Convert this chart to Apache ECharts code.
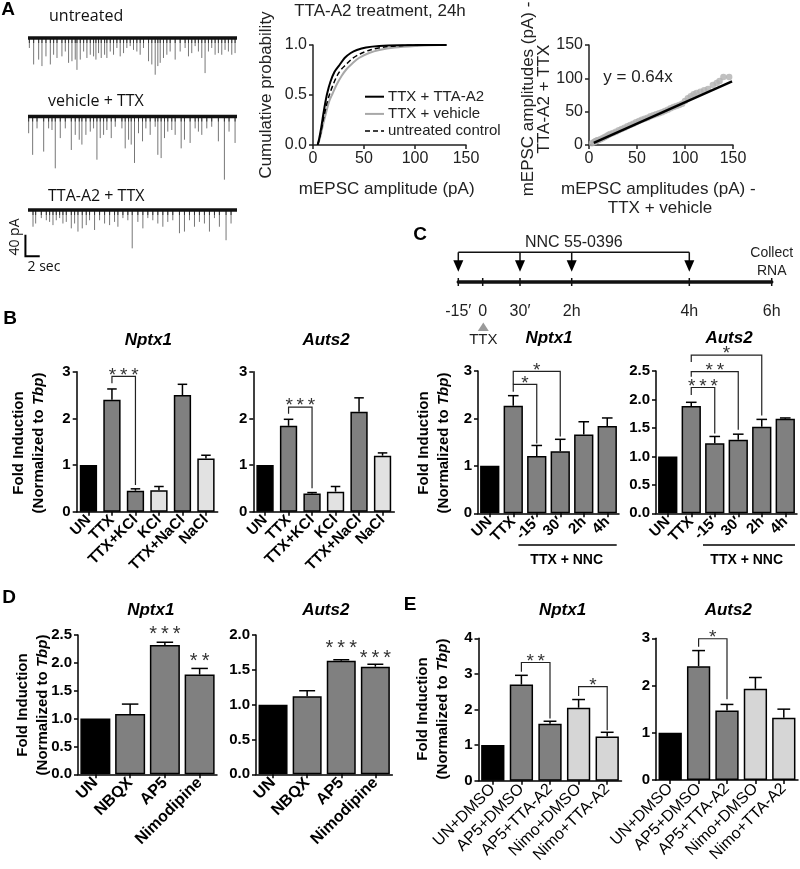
<!DOCTYPE html>
<html>
<head>
<meta charset="utf-8">
<script src="https://cdn.jsdelivr.net/npm/echarts@6.0.0/dist/echarts.min.js"></script>
<style>
html,body{margin:0;padding:0;background:#fff;}
#chart{width:800px;height:869px;}
</style>
</head>
<body>
<div id="chart"></div>
<script>
// ================= DATA =================
// Panel A: example traces, events as [time (s), amplitude (pA)]
const traceDuration = 29.2;
const traceUntreated = [[0.19,18.5],[0.79,49],[1.49,40],[1.95,52],[2.51,34],[3.12,49],[3.58,31],[4.05,37],[4.74,34],[5.21,25],[5.67,46],[6.14,43],[6.6,40],[6.84,59],[7.3,40],[7.77,25],[8.23,37],[8.7,31],[9.16,34],[9.49,40],[9.86,28],[10.23,37],[10.7,31],[11.02,37],[11.49,25],[11.95,31],[12.42,18.5],[12.88,34],[13.35,28],[13.81,18.5],[14.28,15],[14.74,22],[15.21,25],[15.67,31],[16.14,18.5],[16.84,43],[17.3,49],[17.77,68],[18.14,52],[18.47,46],[18.93,37],[19.4,31],[19.86,25],[20.56,40],[21.26,25],[21.95,18.5],[22.42,34],[22.88,28],[23.35,15],[23.81,25],[24.28,37],[24.74,65],[25.21,25],[25.67,18.5],[26.14,31],[26.6,28],[27.07,31],[27.53,22],[28.0,25],[28.47,31],[28.93,28]];
const traceVehicleTTX = [[0.09,31],[0.65,71],[1.26,22],[2.19,65],[2.88,22],[3.35,25],[3.81,96],[4.51,40],[5.21,22],[6.05,62],[6.6,34],[7.16,43],[7.53,52],[8.09,34],[8.7,28],[9.16,22],[9.63,80],[10.09,40],[10.56,34],[11.02,25],[11.63,40],[12.19,19],[13.12,22],[13.58,59],[14.05,43],[14.42,52],[14.88,86],[15.44,31],[16.0,46],[16.47,22],[17.07,34],[17.77,19],[18.14,71],[18.6,77],[19.07,40],[19.53,28],[20.09,25],[20.56,34],[21.4,59],[21.86,43],[22.65,49],[23.35,22],[23.81,28],[24.28,34],[24.98,22],[25.67,19],[26.6,46],[27.44,117],[28.09,28],[28.93,49]];
const traceTTAA2TTX = [[0.7,31],[1.07,25],[1.86,15],[2.56,19],[3.02,22],[3.49,28],[3.95,19],[4.42,15],[4.88,25],[5.35,22],[6.05,34],[6.51,25],[6.98,40],[7.58,34],[8.14,28],[8.6,19],[9.3,37],[10.0,19],[10.7,25],[11.4,28],[12.09,22],[12.56,31],[13.26,15],[13.95,19],[14.56,71],[15.35,22],[16.05,34],[16.74,15],[17.44,19],[18.14,25],[18.84,31],[19.53,22],[20.23,19],[21.16,43],[21.86,40],[22.56,19],[23.26,31],[23.95,22],[24.65,25],[25.35,40],[26.05,15],[26.74,31],[27.67,56],[28.37,25]];
const scaleBarPA = 40, scaleBarSec = 2;

// Panel A: cumulative distributions [amplitude (pA), probability]
const cdfTTX_TTAA2 = [[4.5,0],[6,0.06],[8,0.17],[10,0.3],[12,0.42],[14,0.52],[17,0.63],[21,0.73],[26,0.8],[31,0.87],[37,0.92],[43,0.95],[52,0.975],[65,0.99],[85,0.997],[131,1]];
const cdfTTX_vehicle = [[4.5,0],[6,0.04],[8,0.12],[10,0.21],[13,0.33],[16,0.44],[19,0.51],[23,0.6],[28,0.69],[33,0.76],[38,0.81],[45,0.87],[55,0.92],[65,0.95],[80,0.975],[100,0.99],[124,1],[131,1]];
const cdfUntreated = [[4.5,0],[6,0.05],[8,0.14],[10,0.25],[13,0.39],[16,0.5],[20,0.61],[24,0.7],[28,0.76],[32,0.8],[38,0.86],[46,0.91],[56,0.95],[70,0.98],[85,0.993],[105,1],[131,1]];
const cdfNames = ['TTX + TTA-A2', 'TTX + vehicle', 'untreated control'];

// Panel A: ranked amplitudes, TTX+vehicle (x) vs TTA-A2+TTX (y)
const qqPoints = [[3,2.5],[5,4],[6,5],[7,6],[8,6.5],[9,7],[10,7.5],[12,8.5],[14,10],[16,11.5],[18,13],[20,15],[22,16.5],[25,18],[28,20],[31,22],[34,24],[37,26],[40,28],[43,30],[46,32],[49,34],[52,36],[55,38],[58,39.5],[61,41],[64,43],[67,44.5],[70,46],[73,47.5],[76,49],[79,51],[82,53],[85,55],[88,57],[91,58.5],[94,60],[97,62],[100,66],[103,70],[106,73],[109,76],[112,78],[116,80],[120,82],[124,84],[129,90],[133,93],[136,96],[140,102],[146,102]];
const qqFit = [[5,3.2],[149,95.4]];   // y = 0.64x

// Panel B
const bCategories = ['UN','TTX','TTX+KCl','KCl','TTX+NaCl','NaCl'];
const bNptx1Mean = [1.0, 2.40, 0.45, 0.46, 2.50, 1.14];
const bNptx1Err  = [0, 0.23, 0.04, 0.08, 0.23, 0.07];
const bAuts2Mean = [1.0, 1.84, 0.39, 0.43, 2.14, 1.20];
const bAuts2Err  = [0, 0.14, 0.02, 0.11, 0.30, 0.06];
// [fromIdx, toIdx, top, leftEnd, rightEnd]
const bNptx1Sig = [[1,2,2.90,2.75,0.57]]; const bNptx1SigLabel = ['* * *'];
const bAuts2Sig = [[1,2,2.24,2.10,0.50]]; const bAuts2SigLabel = ['* * *'];

// Panel C timeline
const timelineLabels = ['-15′','0','30′','2h','4h','6h'];
const timelineLayout = [0, 24.4, 61.7, 113.4, 231, 313.4]; // schematic spacing
const nncAdded = ['-15′','30′','2h','4h'];
const ttxAdded = '0';
const rnaCollected = '6h';

// Panel C bars
const cCategories = ['UN','TTX','-15′','30′','2h','4h'];
const cNptx1Mean = [1.0, 2.27, 1.21, 1.31, 1.66, 1.84];
const cNptx1Err  = [0, 0.21, 0.22, 0.25, 0.27, 0.17];
const cAuts2Mean = [1.0, 1.885, 1.23, 1.29, 1.52, 1.66];
const cAuts2Err  = [0, 0.065, 0.12, 0.10, 0.13, 0.015];
const cNptx1Sig = [[1,2,2.72,2.56,1.47],[1,3,2.99,2.72,1.62]]; const cNptx1SigLabel = ['*','*'];
const cAuts2Sig = [[1,2,2.21,2.08,1.40],[1,3,2.49,2.40,1.47],[1,4,2.78,2.66,1.72]]; const cAuts2SigLabel = ['* * *','* *','*'];

// Panel D
const dCategories = ['UN','NBQX','AP5','Nimodipine'];
const dNptx1Mean = [1.0, 1.08, 2.32, 1.79];
const dNptx1Err  = [0, 0.18, 0.05, 0.11];
const dAuts2Mean = [1.0, 1.12, 1.63, 1.545];
const dAuts2Err  = [0, 0.08, 0.015, 0.035];
const dNptx1Stars = [[2,2.60],[3,2.11]]; const dNptx1StarLabel = ['* * *','* *'];
const dAuts2Stars = [[2,1.88],[3,1.73]]; const dAuts2StarLabel = ['* * *','* * *'];

// Panel E
const eCategories = ['UN+DMSO','AP5+DMSO','AP5+TTA-A2','Nimo+DMSO','Nimo+TTA-A2'];
const eNptx1Mean = [1.0, 2.70, 1.60, 2.05, 1.24];
const eNptx1Err  = [0, 0.26, 0.07, 0.23, 0.12];
const eAuts2Mean = [1.0, 2.41, 1.47, 1.93, 1.32];
const eAuts2Err  = [0, 0.33, 0.13, 0.24, 0.18];
const eNptx1Sig = [[1,2,3.32,3.06,1.75],[3,4,2.64,2.38,1.42]]; const eNptx1SigLabel = ['* *','*'];
const eAuts2Sig = [[1,2,2.99,2.82,1.71]]; const eAuts2SigLabel = ['*'];

// ================= STYLE =================
const FONT = '"Liberation Sans", Arial, Helvetica, sans-serif';
const FONT_A = '"Open Sans", "Liberation Sans", sans-serif';
const BLACK = '#000000', DARK = '#808080', LIGHT = '#e2e2e2', LIGHT_E = '#d6d6d6';
const bFills = [BLACK, DARK, DARK, LIGHT, DARK, LIGHT];
const cFills = [BLACK, DARK, DARK, DARK, DARK, DARK];
const dFills = [BLACK, DARK, DARK, DARK];
const eFills = [BLACK, DARK, DARK, LIGHT_E, LIGHT_E];
const cdfStyles = [
  {color: '#000', width: 2, type: 'solid'},
  {color: '#a8a8a8', width: 2, type: 'solid'},
  {color: '#000', width: 1.5, type: [5, 3]}
];
const starText = s => s.replace(/ /g, '\u2009');

const grids = [], xAxes = [], yAxes = [], series = [], graphics = [];

function addGrid(g, xa, ya) {
  const gi = grids.length;
  grids.push(g);
  xAxes.push(Object.assign({gridIndex: gi}, xa));
  yAxes.push(Object.assign({gridIndex: gi}, ya));
  return gi;
}

// ---------- Panel A traces ----------
const PX_PER_PA = 0.54;
function tracePanel(events, baselineY, withScale) {
  const gi = addGrid(
    {left: 28, top: baselineY - 10 * PX_PER_PA, width: 209, height: 130 * PX_PER_PA},
    {type: 'value', min: 0, max: traceDuration, show: false},
    {type: 'value', min: -120, max: 10, show: false}
  );
  series.push({type: 'line', xAxisIndex: gi, yAxisIndex: gi, data: [[0,0],[traceDuration,0]], symbol: 'none', silent: true,
    lineStyle: {color: '#111', width: 3.6}, z: 3});
  series.push({type: 'custom', xAxisIndex: gi, yAxisIndex: gi, data: events, silent: true, clip: false, z: 2,
    renderItem: (p, api) => {
      const a = api.coord([api.value(0), 0]);
      const b = api.coord([api.value(0), -api.value(1)]);
      return {type: 'group', children: [
        {type: 'line', shape: {x1: a[0], y1: a[1], x2: b[0], y2: b[1]}, style: {stroke: '#777', lineWidth: 1}},
        {type: 'line', shape: {x1: a[0], y1: a[1], x2: a[0], y2: a[1] + 5}, style: {stroke: '#333', lineWidth: 1}}
      ]};
    }});
  if (withScale) {
    series.push({type: 'custom', xAxisIndex: gi, yAxisIndex: gi, clip: false, silent: true, z: 5,
      data: [[-0.36, -45.7, scaleBarSec, scaleBarPA]],
      renderItem: (p, api) => {
        const top = api.coord([api.value(0), api.value(1)]);
        const corner = api.coord([api.value(0), api.value(1) - api.value(3)]);
        const right = api.coord([api.value(0) + api.value(2), api.value(1) - api.value(3)]);
        return {type: 'polyline', shape: {points: [top, corner, right]}, style: {stroke: '#000', lineWidth: 2, fill: 'none'}};
      }});
  }
}
tracePanel(traceUntreated, 38, false);
tracePanel(traceVehicleTTX, 116.5, false);
tracePanel(traceTTAA2TTX, 210, true);

// ---------- Panel A cumulative ----------
const thinAxis = (extra) => Object.assign({
  axisLine: {show: true, onZero: false, lineStyle: {color: '#222', width: 1.5}},
  axisTick: {show: true, length: 4, lineStyle: {color: '#222', width: 1.5}},
  splitLine: {show: false},
  axisLabel: {color: '#222', fontSize: 16, fontFamily: FONT, margin: 6}
}, extra);
const giCdf = addGrid({left: 313, top: 45, width: 153, height: 100},
  thinAxis({type: 'value', min: 0, max: 150, interval: 50}),
  thinAxis({type: 'value', min: 0, max: 1, interval: 0.5, axisLabel: {color: '#222', fontSize: 16, fontFamily: FONT, margin: 6, formatter: v => v.toFixed(1)}}));
[cdfTTX_TTAA2, cdfTTX_vehicle, cdfUntreated].forEach((d, i) => {
  series.push({name: cdfNames[i], type: 'line', xAxisIndex: giCdf, yAxisIndex: giCdf, data: d, symbol: 'none', smooth: 0.3, silent: true,
    itemStyle: {color: cdfStyles[i].color}, lineStyle: cdfStyles[i], z: i === 1 ? 3 : 4});
});
series.push({type: 'custom', xAxisIndex: giCdf, yAxisIndex: giCdf, clip: false, silent: true, z: 5,
  data: cdfNames.map((n, i) => [i]),
  renderItem: (p, api) => {
    const i = api.value(0);
    const y = 96.7 + i * 17.2;
    const s = cdfStyles[i];
    return {type: 'group', children: [
      {type: 'line', shape: {x1: 365, y1: y, x2: 384, y2: y}, style: {stroke: s.color, lineWidth: s.width, lineDash: Array.isArray(s.type) ? s.type : null}},
      {type: 'text', x: 388, y: y, style: {text: cdfNames[i], fill: '#222', font: '15px ' + FONT, align: 'left', verticalAlign: 'middle'}}
    ]};
  }});

// ---------- Panel A scatter ----------
const giQQ = addGrid({left: 589, top: 45, width: 144, height: 100},
  thinAxis({type: 'value', min: 0, max: 150, interval: 50}),
  thinAxis({type: 'value', min: 0, max: 150, interval: 50}));
series.push({type: 'scatter', xAxisIndex: giQQ, yAxisIndex: giQQ, data: qqPoints, symbolSize: 6.5, silent: true, itemStyle: {color: '#b0b0b0'}, z: 2});
series.push({type: 'line', xAxisIndex: giQQ, yAxisIndex: giQQ, data: qqFit, symbol: 'none', silent: true, lineStyle: {color: '#000', width: 2.5}, z: 3});

// ---------- Panel C timeline ----------
const posOf = lab => timelineLayout[timelineLabels.indexOf(lab)];
const giTL = addGrid({left: 458.3, top: 252.3, width: 313.4, height: 29.7},
  {type: 'value', min: 0, max: timelineLayout[timelineLayout.length - 1],
   axisLine: {show: true, onZero: false, lineStyle: {color: '#111', width: 3.5}}, axisTick: {show: false}, axisLabel: {show: false}, splitLine: {show: false}},
  {type: 'value', min: 0, max: 1, show: false});
series.push({type: 'custom', xAxisIndex: giTL, yAxisIndex: giTL, clip: false, silent: true,
  data: timelineLayout.map((x, i) => [x, i]),
  renderItem: (p, api) => {
    const c = api.coord([api.value(0), 0]);
    return {type: 'group', children: [
      {type: 'line', shape: {x1: c[0], y1: c[1] - 4, x2: c[0], y2: c[1] + 4}, style: {stroke: '#111', lineWidth: 1.5}},
      {type: 'text', x: c[0], y: c[1] + 30, style: {text: timelineLabels[api.value(1)], fill: '#222', font: '16px ' + FONT, align: 'center', verticalAlign: 'middle'}}
    ]};
  }});
series.push({type: 'custom', xAxisIndex: giTL, yAxisIndex: giTL, clip: false, silent: true,
  data: [[posOf(nncAdded[0]), posOf(nncAdded[nncAdded.length - 1])]],
  renderItem: (p, api) => {
    const a = api.coord([api.value(0), 1]), b = api.coord([api.value(1), 1]);
    const base = api.coord([0, 0])[1];
    const kids = [
      {type: 'line', shape: {x1: a[0], y1: a[1], x2: b[0], y2: b[1]}, style: {stroke: '#111', lineWidth: 1.5}},
      {type: 'text', x: (a[0] + b[0]) / 2, y: a[1] - 10, style: {text: 'NNC 55-0396', fill: '#222', font: '16px ' + FONT, align: 'center', verticalAlign: 'middle'}}
    ];
    nncAdded.forEach(lab => {
      const x = api.coord([posOf(lab), 1])[0];
      const tip = base - 10.3;
      kids.push({type: 'line', shape: {x1: x, y1: a[1], x2: x, y2: tip - 10}, style: {stroke: '#111', lineWidth: 1.5}});
      kids.push({type: 'polygon', shape: {points: [[x - 5, tip - 11.5], [x + 5, tip - 11.5], [x, tip]]}, style: {fill: '#000'}});
    });
    return {type: 'group', children: kids};
  }});
series.push({type: 'custom', xAxisIndex: giTL, yAxisIndex: giTL, clip: false, silent: true,
  data: [[posOf(ttxAdded), posOf(rnaCollected)]],
  renderItem: (p, api) => {
    const t = api.coord([api.value(0), 0]);
    const r = api.coord([api.value(1), 1]);
    return {type: 'group', children: [
      {type: 'polygon', shape: {points: [[t[0] + 0.6 - 5.5, t[1] + 49], [t[0] + 0.6 + 5.5, t[1] + 49], [t[0] + 0.6, t[1] + 40.5]]}, style: {fill: '#9a9a9a'}},
      {type: 'text', x: t[0] + 0.6, y: t[1] + 58, style: {text: 'TTX', fill: '#222', font: '15px ' + FONT, align: 'center', verticalAlign: 'middle'}},
      {type: 'text', x: r[0], y: r[1] + 1, style: {text: 'Collect', fill: '#222', font: '14px ' + FONT, align: 'center', verticalAlign: 'middle'}},
      {type: 'text', x: r[0], y: r[1] + 18.4, style: {text: 'RNA', fill: '#222', font: '14px ' + FONT, align: 'center', verticalAlign: 'middle'}}
    ]};
  }});

// ---------- Bar panels ----------
function barPanel(cfg) {
  const gi = addGrid({left: cfg.left, top: cfg.top, width: cfg.width, height: cfg.height},
    {type: 'category', data: cfg.cats,
     axisLine: {show: true, lineStyle: {color: '#000', width: 1.5}},
     axisTick: {show: true, alignWithLabel: true, length: 4, lineStyle: {color: '#000', width: 1.5}},
     axisLabel: {interval: 0, rotate: 45, margin: 6, color: '#000', fontSize: cfg.labelSize || 15, fontWeight: cfg.labelWeight || 'bold', fontFamily: FONT}},
    {type: 'value', min: 0, max: cfg.max, interval: cfg.interval,
     axisLine: {show: true, lineStyle: {color: '#000', width: 1.5}},
     axisTick: {show: true, length: 4, lineStyle: {color: '#000', width: 1.5}},
     splitLine: {show: false},
     axisLabel: {margin: 6, color: '#000', fontSize: 15, fontWeight: 'bold', fontFamily: FONT,
       formatter: v => cfg.decimals ? v.toFixed(cfg.decimals) : String(v)}});
  series.push({type: 'bar', xAxisIndex: gi, yAxisIndex: gi, barWidth: cfg.barWidth, silent: true, z: 2,
    itemStyle: {borderColor: '#000', borderWidth: 1.5},
    data: cfg.mean.map((v, i) => ({value: v, itemStyle: {color: cfg.fills[i], borderColor: '#000', borderWidth: 1.5}}))});
  const capW = cfg.barWidth * 0.55;
  series.push({type: 'custom', xAxisIndex: gi, yAxisIndex: gi, silent: true, clip: false, z: 3,
    data: cfg.mean.map((m, i) => [i, m, m + cfg.err[i]]),
    renderItem: (p, api) => {
      const b = api.coord([api.value(0), api.value(1)]);
      const t = api.coord([api.value(0), api.value(2)]);
      if (b[1] - t[1] < 0.8) return {type: 'group', children: []};
      return {type: 'group', children: [
        {type: 'line', shape: {x1: b[0], y1: b[1], x2: t[0], y2: t[1]}, style: {stroke: '#000', lineWidth: 1.5}},
        {type: 'line', shape: {x1: t[0] - capW / 2, y1: t[1], x2: t[0] + capW / 2, y2: t[1]}, style: {stroke: '#000', lineWidth: 1.5}}
      ]};
    }});
  if (cfg.sig) {
    series.push({type: 'custom', xAxisIndex: gi, yAxisIndex: gi, silent: true, clip: false, z: 4,
      data: cfg.sig,
      renderItem: (p, api) => {
        const x1 = api.coord([api.value(0), 0])[0], x2 = api.coord([api.value(1), 0])[0];
        const yT = api.coord([0, api.value(2)])[1], yL = api.coord([0, api.value(3)])[1], yR = api.coord([0, api.value(4)])[1];
        return {type: 'group', children: [
          {type: 'polyline', shape: {points: [[x1, yL], [x1, yT], [x2, yT], [x2, yR]]}, style: {stroke: '#222', lineWidth: 1.2, fill: 'none'}},
          {type: 'text', x: (x1 + x2) / 2, y: yT - 1, style: {text: starText(cfg.sigLabel[p.dataIndex]), fill: '#333', font: '19px ' + FONT, align: 'center', verticalAlign: 'middle'}}
        ]};
      }});
  }
  if (cfg.stars) {
    series.push({type: 'custom', xAxisIndex: gi, yAxisIndex: gi, silent: true, clip: false, z: 4,
      data: cfg.stars,
      renderItem: (p, api) => {
        const c = api.coord([api.value(0), api.value(1)]);
        return {type: 'text', x: c[0], y: c[1] + 5, style: {text: starText(cfg.starLabel[p.dataIndex]), fill: '#333', font: '20px ' + FONT, align: 'center', verticalAlign: 'middle'}};
      }});
  }
}

barPanel({left: 76.7, top: 371.7, width: 141, height: 140, max: 3, interval: 1, cats: bCategories, mean: bNptx1Mean, err: bNptx1Err, fills: bFills, barWidth: 17.3, sig: bNptx1Sig, sigLabel: bNptx1SigLabel});
barPanel({left: 253.3, top: 371.7, width: 141, height: 140, max: 3, interval: 1, cats: bCategories, mean: bAuts2Mean, err: bAuts2Err, fills: bFills, barWidth: 17.3, sig: bAuts2Sig, sigLabel: bAuts2SigLabel});
barPanel({left: 478, top: 371, width: 141, height: 142.3, max: 3, interval: 1, cats: cCategories, mean: cNptx1Mean, err: cNptx1Err, fills: cFills, barWidth: 19.3, sig: cNptx1Sig, sigLabel: cNptx1SigLabel});
barPanel({left: 656, top: 371, width: 141, height: 142.3, max: 2.5, interval: 0.5, decimals: 1, cats: cCategories, mean: cAuts2Mean, err: cAuts2Err, fills: cFills, barWidth: 19.3, sig: cAuts2Sig, sigLabel: cAuts2SigLabel});
barPanel({left: 78, top: 635, width: 139, height: 139.3, max: 2.5, interval: 0.5, decimals: 1, cats: dCategories, mean: dNptx1Mean, err: dNptx1Err, fills: dFills, barWidth: 30, stars: dNptx1Stars, starLabel: dNptx1StarLabel, labelSize: 16});
barPanel({left: 256, top: 635, width: 136.4, height: 139.3, max: 2.0, interval: 0.5, decimals: 1, cats: dCategories, mean: dAuts2Mean, err: dAuts2Err, fills: dFills, barWidth: 29, stars: dAuts2Stars, starLabel: dAuts2StarLabel, labelSize: 16});
barPanel({left: 478.5, top: 638.3, width: 143, height: 142.4, max: 4, interval: 1, cats: eCategories, mean: eNptx1Mean, err: eNptx1Err, fills: eFills, barWidth: 23.3, sig: eNptx1Sig, sigLabel: eNptx1SigLabel, labelWeight: 'normal', labelSize: 16});
barPanel({left: 656, top: 638.3, width: 142, height: 141.7, max: 3, interval: 1, cats: eCategories, mean: eAuts2Mean, err: eAuts2Err, fills: eFills, barWidth: 23.3, sig: eAuts2Sig, sigLabel: eAuts2SigLabel, labelWeight: 'normal', labelSize: 16});

// ---------- Text annotations ----------
function txt(x, y, text, font, extra) {
  return Object.assign({type: 'text', x: x, y: y, silent: true,
    style: Object.assign({text: text, fill: '#000', font: font, align: 'center', verticalAlign: 'middle'}, (extra && extra.style) || {})},
    extra && extra.rotation !== undefined ? {rotation: extra.rotation} : {});
}
const LETTER = 'bold 19px ' + FONT;
graphics.push(txt(8, 10, 'A', LETTER), txt(10, 319, 'B', LETTER), txt(420, 235, 'C', LETTER), txt(9, 598, 'D', LETTER), txt(410, 605, 'E', LETTER));
graphics.push(txt(49, 16, 'untreated', '16px ' + FONT_A, {style: {align: 'left', fill: '#111'}}));
graphics.push(txt(48, 101.7, 'vehicle + TTX', '16px ' + FONT_A, {style: {align: 'left', fill: '#111'}}));
graphics.push(txt(48, 196.7, 'TTA-A2 + TTX', '16px ' + FONT_A, {style: {align: 'left', fill: '#111'}}));
graphics.push(txt(15, 237, '40 pA', '14px ' + FONT_A, {rotation: Math.PI / 2, style: {fill: '#111'}}));
graphics.push(txt(44, 267, '2 sec', '14px ' + FONT_A, {style: {fill: '#111'}}));
graphics.push(txt(380, 11, 'TTA-A2 treatment, 24h', '17px ' + FONT, {style: {fill: '#222'}}));
graphics.push(txt(266.7, 95, 'Cumulative probability', '17px ' + FONT, {rotation: Math.PI / 2, style: {fill: '#222'}}));
graphics.push(txt(386.7, 189, 'mEPSC amplitude (pA)', '17px ' + FONT, {style: {fill: '#222'}}));
graphics.push(txt(528, 99, 'mEPSC amplitudes (pA) -', '17px ' + FONT, {rotation: Math.PI / 2, style: {fill: '#222'}}));
graphics.push(txt(544, 99, 'TTA-A2 + TTX', '17px ' + FONT, {rotation: Math.PI / 2, style: {fill: '#222'}}));
graphics.push(txt(658.3, 189.3, 'mEPSC amplitudes (pA) -', '17px ' + FONT, {style: {fill: '#222'}}));
graphics.push(txt(660, 208.3, 'TTX + vehicle', '17px ' + FONT, {style: {fill: '#222'}}));
graphics.push(txt(603.3, 77, 'y = 0.64x', '17px ' + FONT, {style: {align: 'left', fill: '#222'}}));
const TITLE = 'italic bold 17px ' + FONT;
[[148.3, 340, 'Nptx1'], [326, 340, 'Auts2'], [549, 338.3, 'Nptx1'], [729, 338.3, 'Auts2'],
 [150.8, 610, 'Nptx1'], [325.8, 610, 'Auts2'], [562.5, 610, 'Nptx1'], [728.3, 610, 'Auts2']]
  .forEach(t => graphics.push(txt(t[0], t[1], t[2], TITLE)));
const yNameStyle = {text: 'Fold Induction\n(Normalized to {i|Tbp})', fill: '#000', font: 'bold 15px ' + FONT, lineHeight: 20,
  align: 'center', verticalAlign: 'middle', rich: {i: {fontStyle: 'italic', fontWeight: 'bold', fontSize: 15, fontFamily: FONT, fill: '#000'}}};
[[28.5, 443], [434, 443], [32.5, 705], [433, 709]].forEach(p => graphics.push({type: 'text', x: p[0], y: p[1], rotation: Math.PI / 2, silent: true, style: Object.assign({}, yNameStyle)}));
graphics.push({type: 'line', silent: true, shape: {x1: 518.3, y1: 545, x2: 616.7, y2: 545}, style: {stroke: '#000', lineWidth: 1.5}});
graphics.push({type: 'line', silent: true, shape: {x1: 703, y1: 545, x2: 795, y2: 545}, style: {stroke: '#000', lineWidth: 1.5}});
graphics.push(txt(566.7, 560, 'TTX + NNC', 'bold 14px ' + FONT));
graphics.push(txt(746.7, 560, 'TTX + NNC', 'bold 14px ' + FONT));

const option = {
  animation: false,
  backgroundColor: '#ffffff',
  textStyle: {fontFamily: FONT},
  grid: grids,
  xAxis: xAxes,
  yAxis: yAxes,
  series: series,
  graphic: graphics
};
const chart = echarts.init(document.getElementById('chart'), null, {renderer: 'canvas', width: 800, height: 869});
chart.setOption(option);
</script>
</body>
</html>
